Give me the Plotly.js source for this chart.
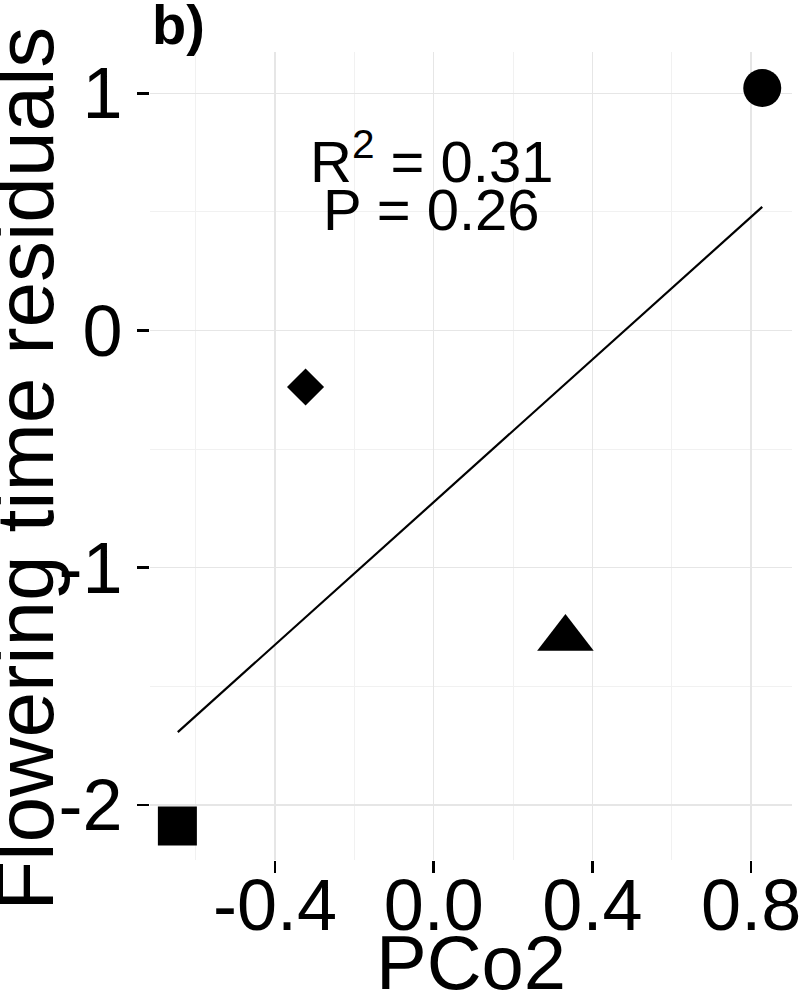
<!DOCTYPE html>
<html>
<head>
<meta charset="utf-8">
<script src="https://cdn.plot.ly/plotly-3.0.1.min.js"></script>
<style>
  html, body { margin: 0; padding: 0; background: #fff; }
  #residPlot { width: 800px; height: 1002px; }
</style>
</head>
<body>
<div id="residPlot"></div>
<script>
// points (PCo2 score vs flowering time residual)
const pcoX = [-0.646, -0.323, 0.332, 0.828];
const residY = [-2.089, -0.238, -1.298, 1.022];
const pointSymbols = ["square", "diamond", "triangle-up", "circle"];

// fitted line ends
const fitX = [-0.645, 0.828];
const fitY = [-1.693, 0.521];

const xTickVals = [-0.4, 0.0, 0.4, 0.8];
const xTickText = ["-0.4", "0.0", "0.4", "0.8"];
const yTickVals = [-2, -1, 0, 1];
const yTickText = ["-2", "-1", "0", "1"];

const statLines = ["R<sup>2</sup> = 0.31", "P = 0.26"];

const showResiduals = () => {
    const font = "Liberation Sans, Arial, sans-serif";
    const markerSizes = { "square": 39, "diamond": 28.5, "triangle-up": 49, "circle": 38 };

    const data = [
        {
            x: fitX,
            y: fitY,
            mode: "lines",
            type: "scatter",
            line: { color: "#000", width: 2.2 },
            hoverinfo: "skip"
        },
        {
            x: pcoX,
            y: residY,
            mode: "markers",
            type: "scatter",
            marker: {
                color: "#000",
                opacity: 1,
                symbol: pointSymbols,
                size: pointSymbols.map(s => markerSizes[s]),
                line: { width: 0 }
            }
        }
    ];

    const layout = {
        width: 800,
        height: 1002,
        margin: { l: 150, r: 8, t: 52, b: 142 },
        paper_bgcolor: "#fff",
        plot_bgcolor: "#fff",
        showlegend: false,
        font: { family: font, color: "#000" },
        xaxis: {
            range: [-0.715, 0.903],
            tickmode: "array",
            tickvals: xTickVals,
            ticktext: xTickText,
            ticks: "outside",
            ticklen: 12,
            tickwidth: 2.5,
            tickcolor: "#000",
            tickfont: { size: 72, color: "#000" },
            ticklabeloverflow: "allow",
            ticklabelstandoff: -29,
            showgrid: true,
            gridcolor: "#e6e6e6",
            gridwidth: 1.5,
            minor: { tickmode: "array", tickvals: [-0.6, -0.2, 0.2, 0.6], showgrid: true, gridcolor: "#f1f1f1", gridwidth: 1 },
            zeroline: false,
            showline: false
        },
        yaxis: {
            range: [-2.232, 1.174],
            tickmode: "array",
            tickvals: yTickVals,
            ticktext: yTickText,
            ticks: "outside",
            ticklen: 12,
            tickwidth: 2.5,
            tickcolor: "#000",
            tickfont: { size: 72, color: "#000" },
            showgrid: true,
            gridcolor: "#e6e6e6",
            gridwidth: 1.5,
            minor: { tickmode: "array", tickvals: [-1.5, -0.5, 0.5], showgrid: true, gridcolor: "#f1f1f1", gridwidth: 1 },
            zeroline: false,
            showline: false
        },
        annotations: [
            {
                text: statLines[0], x: -0.006, y: 0.73, xref: "x", yref: "y",
                showarrow: false, xanchor: "center", yanchor: "middle",
                font: { size: 58, color: "#000" }
            },
            {
                text: statLines[1], x: -0.006, y: 0.51, xref: "x", yref: "y",
                showarrow: false, xanchor: "center", yanchor: "middle",
                font: { size: 58, color: "#000" }
            },
            {
                text: "<b>b)</b>", x: 0, y: 1.076, xref: "paper", yref: "paper",
                showarrow: false, xanchor: "left", yanchor: "top",
                font: { size: 56, color: "#000" }
            },
            {
                text: "Flowering time residuals", x: -0.195, y: 0.484, xref: "paper", yref: "paper",
                showarrow: false, xanchor: "center", yanchor: "middle", textangle: -90,
                font: { size: 82, color: "#000" }
            },
            {
                text: "PCo2", x: 0.5, y: -0.072, xref: "paper", yref: "paper",
                showarrow: false, xanchor: "center", yanchor: "top",
                font: { size: 76, color: "#000" }
            }
        ]
    };

    Plotly.newPlot("residPlot", data, layout, { staticPlot: true });
}

showResiduals();
</script>
</body>
</html>
